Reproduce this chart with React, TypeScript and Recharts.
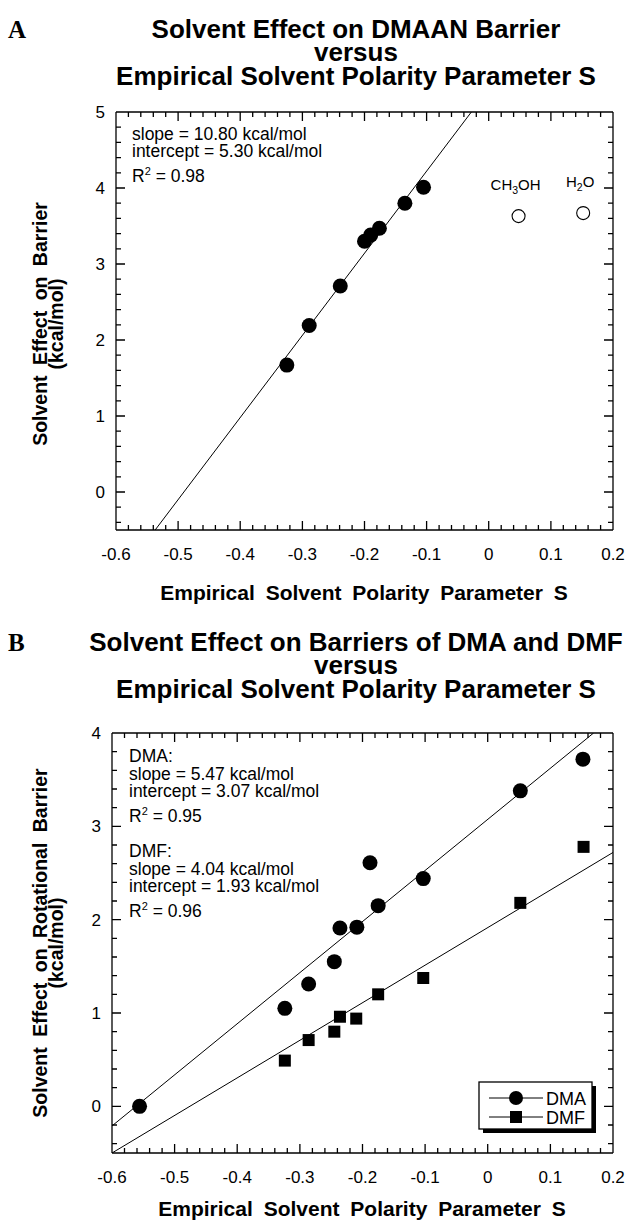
import React from 'react';
import { ScatterChart, Scatter, XAxis, YAxis } from 'recharts';

const FONT = '"Liberation Sans", Arial, Helvetica, sans-serif';
const SERIF = '"Liberation Serif", "Times New Roman", serif';
const INK = '#000';

// ---- panel A: DMAAN barrier vs S ----
const dmaanS = [-0.325, -0.289, -0.239, -0.2, -0.19, -0.176, -0.135, -0.105];
const dmaanBarrier = [1.67, 2.19, 2.71, 3.3, 3.38, 3.47, 3.8, 4.01];
const proticNames = ['CH3OH', 'H2O'];
const proticS = [0.048, 0.152];
const proticBarrier = [3.63, 3.67];
const fitAS = [-0.537, -0.028];
const fitABarrier = [-0.5, 5.0];

// ---- panel B: DMA and DMF barriers vs S ----
const dmaS = [-0.556, -0.324, -0.286, -0.245, -0.236, -0.209, -0.188, -0.175, -0.103, 0.052, 0.152];
const dmaBarrier = [0.0, 1.05, 1.31, 1.55, 1.91, 1.92, 2.61, 2.15, 2.44, 3.38, 3.72];
const dmfS = [-0.324, -0.286, -0.245, -0.236, -0.21, -0.175, -0.103, 0.052, 0.153];
const dmfBarrier = [0.49, 0.71, 0.8, 0.96, 0.94, 1.2, 1.375, 2.18, 2.78];
const fitDmaS = [-0.6, 0.169];
const fitDmaBarrier = [-0.21, 4.0];
const fitDmfS = [-0.6, 0.2];
const fitDmfBarrier = [-0.5, 2.72];

// ---- axes ----
const sDomain: [number, number] = [-0.6, 0.2];
const barrierDomainA: [number, number] = [-0.5, 5];
const barrierDomainB: [number, number] = [-0.5, 4];
const sLabels = [-0.6, -0.5, -0.4, -0.3, -0.2, -0.1, 0, 0.1, 0.2];
const barrierLabelsA = [0, 1, 2, 3, 4, 5];
const barrierLabelsB = [0, 1, 2, 3, 4];

const steps = (lo: number, hi: number, step: number) =>
  Array.from({ length: Math.round((hi - lo) / step) + 1 }, (_, i) => +(lo + i * step).toFixed(3));
const sTicks = steps(-0.58, 0.18, 0.02);
const barrierTicksA = steps(-0.4, 4.8, 0.2);
const barrierTicksB = steps(-0.4, 3.8, 0.2);

// plot boxes (page pixels) that the chart margins below produce
const boxA = { left: 116, right: 613, top: 112, bottom: 530 };
const boxB = { left: 112, right: 613, top: 733, bottom: 1153 };

const pts = (xs: number[], ys: number[]) => xs.map((s, i) => ({ s, v: ys[i] }));
const fmt = (v: number) => (v === 0 ? '0' : String(Number(v.toFixed(1))));
const isMajor = (v: number, unit: number) => Math.abs(v / unit - Math.round(v / unit)) < 1e-6;

const BottomLabel = (p: any) => (
  <text x={p.x} y={Number(p.y) + 30} textAnchor="middle" fontSize={17} fontFamily={FONT} fill={INK}>
    {fmt(p.payload.value)}
  </text>
);
const LeftLabel = (p: any) => (
  <text x={Number(p.x) - 11} y={Number(p.y) + 6} textAnchor="end" fontSize={17} fontFamily={FONT} fill={INK}>
    {fmt(p.payload.value)}
  </text>
);

const axisLine = { stroke: INK, strokeWidth: 1.3 };

const frame = (yDomain: [number, number], yLabels: number[]) => (
  <>
    <XAxis xAxisId="b" type="number" dataKey="s" domain={sDomain} ticks={sLabels} interval={0}
      allowDataOverflow height={1} tickSize={0} tickMargin={0} tickLine={false}
      axisLine={axisLine} tick={BottomLabel} />
    <XAxis xAxisId="t" orientation="top" type="number" dataKey="s" domain={sDomain}
      allowDataOverflow height={1} tickLine={false} axisLine={axisLine} tick={false} />
    <YAxis yAxisId="l" type="number" dataKey="v" domain={yDomain} ticks={yLabels} interval={0}
      allowDataOverflow width={1} tickSize={0} tickMargin={0} tickLine={false}
      axisLine={axisLine} tick={LeftLabel} />
    <YAxis yAxisId="r" orientation="right" type="number" dataKey="v" domain={yDomain}
      allowDataOverflow width={1} tickLine={false} axisLine={axisLine} tick={false} />
  </>
);

const NoDot = () => <g />;
const Dot = (p: any) => <circle cx={p.cx} cy={p.cy} r={7.5} fill={INK} />;
const Square = (p: any) => <rect x={p.cx - 6} y={p.cy - 6} width={12} height={12} fill={INK} />;

const Formula = ({ text, x, y, size }: { text: string; x: number; y: number; size: number }) => {
  const parts = text.split(/(\d+)/).filter(Boolean);
  return (
    <text x={x} y={y} textAnchor="middle" fontSize={size} fontFamily={FONT} fill={INK}>
      {parts.map((part, i) =>
        /\d/.test(part) ? (
          <tspan key={i} fontSize={size * 0.7} dy={4}>{part}</tspan>
        ) : (
          <tspan key={i} dy={i > 0 ? -4 : 0}>{part}</tspan>
        )
      )}
    </text>
  );
};

const OpenDot = (p: any) => (
  <g>
    <circle cx={p.cx} cy={p.cy} r={6.5} fill="#fff" stroke={INK} strokeWidth={1.1} />
    <Formula text={p.payload.name} x={p.cx - 3} y={p.cy - 26} size={15} />
  </g>
);

const lineStyle = { stroke: INK, strokeWidth: 1 };

const ChartA = () => (
  <ScatterChart width={641} height={620} margin={{ top: 111, right: 27, bottom: 89, left: 115 }}
    style={{ position: 'absolute', left: 0, top: 0, fontFamily: FONT }}>
    {frame(barrierDomainA, barrierLabelsA)}
    <Scatter xAxisId="b" yAxisId="l" data={pts(fitAS, fitABarrier)} line={lineStyle} shape={NoDot}
      isAnimationActive={false} />
    <Scatter xAxisId="b" yAxisId="l" data={pts(dmaanS, dmaanBarrier)} shape={Dot} isAnimationActive={false} />
    <Scatter xAxisId="b" yAxisId="l"
      data={proticS.map((s, i) => ({ s, v: proticBarrier[i], name: proticNames[i] }))}
      shape={OpenDot} isAnimationActive={false} />
  </ScatterChart>
);

const ChartB = () => (
  <ScatterChart width={641} height={604} margin={{ top: 112, right: 27, bottom: 70, left: 111 }}
    style={{ position: 'absolute', left: 0, top: 620, fontFamily: FONT }}>
    {frame(barrierDomainB, barrierLabelsB)}
    <Scatter xAxisId="b" yAxisId="l" data={pts(fitDmaS, fitDmaBarrier)} line={lineStyle} shape={NoDot}
      isAnimationActive={false} />
    <Scatter xAxisId="b" yAxisId="l" data={pts(fitDmfS, fitDmfBarrier)} line={lineStyle} shape={NoDot}
      isAnimationActive={false} />
    <Scatter xAxisId="b" yAxisId="l" data={pts(dmaS, dmaBarrier)} shape={Dot} isAnimationActive={false} />
    <Scatter xAxisId="b" yAxisId="l" data={pts(dmfS, dmfBarrier)} shape={Square} isAnimationActive={false} />
  </ScatterChart>
);

// inward frame ticks on all four sides
const FrameTicks = ({ box, yDomain, yTicks }: { box: typeof boxA; yDomain: [number, number]; yTicks: number[] }) => {
  const sx = (s: number) => box.left + ((s - sDomain[0]) / (sDomain[1] - sDomain[0])) * (box.right - box.left);
  const sy = (v: number) => box.bottom - ((v - yDomain[0]) / (yDomain[1] - yDomain[0])) * (box.bottom - box.top);
  let d = '';
  sTicks.forEach((s) => {
    const len = isMajor(s, 0.1) ? 9 : 5;
    const x = sx(s).toFixed(1);
    d += `M${x},${box.bottom}v${-len}M${x},${box.top}v${len}`;
  });
  yTicks.forEach((v) => {
    const len = isMajor(v, 1) ? 9 : 5;
    const y = sy(v).toFixed(1);
    d += `M${box.left},${y}h${len}M${box.right},${y}h${-len}`;
  });
  return <path d={d} stroke={INK} strokeWidth={1.3} fill="none" />;
};

const T = (p: { x: number; y: number; size?: number; bold?: boolean; anchor?: string; children: React.ReactNode; ws?: number }) => (
  <text x={p.x} y={p.y} fontSize={p.size ?? 17.5} fontWeight={p.bold ? 'bold' : 'normal'}
    textAnchor={(p.anchor ?? 'start') as any} fontFamily={FONT} fill={INK} style={{ wordSpacing: p.ws ?? 0 }}>
    {p.children}
  </text>
);

const R2 = ({ x, y, value }: { x: number; y: number; value: string }) => (
  <text x={x} y={y} fontSize={17.5} fontFamily={FONT} fill={INK}>
    R<tspan fontSize={11} dy={-7}>2</tspan><tspan dy={7}> = {value}</tspan>
  </text>
);

const YTitle = ({ cy, lines }: { cy: number; lines: string[] }) => (
  <g>
    {lines.map((l, i) => (
      <text key={i} x={47 + i * 16} y={cy} transform={`rotate(-90 ${47 + i * 16} ${cy})`} textAnchor="middle"
        fontSize={19.5} fontWeight="bold" fontFamily={FONT} fill={INK} style={{ wordSpacing: 5 }}>
        {l}
      </text>
    ))}
  </g>
);

const Overlay = () => (
  <svg width={641} height={1224} style={{ position: 'absolute', left: 0, top: 0, pointerEvents: 'none' }}>
    <FrameTicks box={boxA} yDomain={barrierDomainA} yTicks={barrierTicksA} />
    <FrameTicks box={boxB} yDomain={barrierDomainB} yTicks={barrierTicksB} />

    {/* panel A */}
    <text x={8} y={38} fontSize={25} fontWeight="bold" fontFamily={SERIF} fill={INK}>A</text>
    <T x={356} y={38} size={26} bold anchor="middle">Solvent Effect on DMAAN Barrier</T>
    <T x={356} y={61} size={26} bold anchor="middle">versus</T>
    <T x={356} y={85} size={26} bold anchor="middle">Empirical Solvent Polarity Parameter S</T>
    <YTitle cy={324} lines={['Solvent Effect on Barrier', '(kcal/mol)']} />
    <T x={364} y={600} size={21} bold anchor="middle" ws={5}>Empirical Solvent Polarity Parameter S</T>
    <T x={132} y={140}>slope = 10.80 kcal/mol</T>
    <T x={132} y={157}>intercept = 5.30 kcal/mol</T>
    <R2 x={132} y={182} value="0.98" />

    {/* panel B */}
    <text x={8} y={651} fontSize={25} fontWeight="bold" fontFamily={SERIF} fill={INK}>B</text>
    <T x={356} y={651} size={26} bold anchor="middle">Solvent Effect on Barriers of DMA and DMF</T>
    <T x={356} y={674} size={26} bold anchor="middle">versus</T>
    <T x={356} y={698} size={26} bold anchor="middle">Empirical Solvent Polarity Parameter S</T>
    <YTitle cy={943} lines={['Solvent Effect on Rotational Barrier', '(kcal/mol)']} />
    <T x={362} y={1216} size={21} bold anchor="middle" ws={5}>Empirical Solvent Polarity Parameter S</T>
    <T x={129} y={762}>DMA:</T>
    <T x={129} y={780}>slope = 5.47 kcal/mol</T>
    <T x={129} y={797}>intercept = 3.07 kcal/mol</T>
    <R2 x={129} y={822} value="0.95" />
    <T x={129} y={857}>DMF:</T>
    <T x={129} y={875}>slope = 4.04 kcal/mol</T>
    <T x={129} y={892}>intercept = 1.93 kcal/mol</T>
    <R2 x={129} y={917} value="0.96" />

    {/* legend */}
    <rect x={483} y={1086} width={113} height={47} fill={INK} />
    <rect x={479} y={1082} width={113} height={47} fill="#fff" stroke={INK} strokeWidth={1.3} />
    <line x1={489} x2={543} y1={1098} y2={1098} stroke={INK} />
    <circle cx={516} cy={1098} r={7} fill={INK} />
    <T x={546} y={1104.5} size={18}>DMA</T>
    <line x1={489} x2={543} y1={1117} y2={1117} stroke={INK} />
    <rect x={510} y={1111} width={12} height={12} fill={INK} />
    <T x={546} y={1123.5} size={18}>DMF</T>
  </svg>
);

export default function App() {
  return (
    <div style={{ position: 'absolute', left: 0, top: 0, width: 641, height: 1224, background: '#fff', overflow: 'hidden' }}>
      <ChartA />
      <ChartB />
      <Overlay />
    </div>
  );
}
